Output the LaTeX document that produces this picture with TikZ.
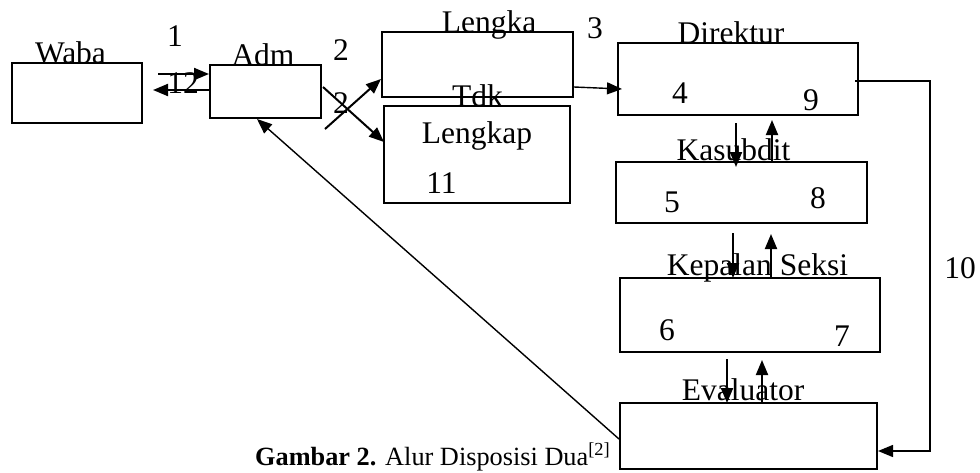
\documentclass[tikz,border=0pt]{standalone}
\usepackage{fontspec}
\setmainfont{Liberation Serif}
\usetikzlibrary{arrows.meta}
\begin{document}
\begin{tikzpicture}[x=1pt,y=-1pt,
  box/.style={draw=black,line width=2pt,rectangle,inner sep=0pt},
  lbl/.style={anchor=base,inner sep=0pt,font=\fontsize{31.5}{37}\selectfont},
  arr/.style={line width=2pt,-{Triangle[length=15pt,width=12pt]}},
  thin/.style={line width=1.3pt},
  thinarr/.style={line width=1.4pt,-{Triangle[length=15pt,width=12pt]}}]
\useasboundingbox (0,0) rectangle (980,472);
% boxes
\node[box,minimum width=130pt,minimum height=60pt] (waba) at (77,93) {};
\node[box,minimum width=111pt,minimum height=53pt] (adm) at (265.5,91.5) {};
\node[box,minimum width=191pt,minimum height=65pt] (lengka) at (477.5,64.5) {};
\node[box,minimum width=186pt,minimum height=97pt] (tdk) at (477,154.5) {};
\node[box,minimum width=240pt,minimum height=72pt] (direktur) at (738,79) {};
\node[box,minimum width=251pt,minimum height=61pt] (kasubdit) at (741.5,192.5) {};
\node[box,minimum width=260pt,minimum height=74pt] (kepala) at (750,315) {};
\node[box,minimum width=257pt,minimum height=66pt] (evaluator) at (748.5,436) {};
% labels
\node[lbl] (twaba) at (70.5,63) {Waba};
\node[lbl] (tadm) at (263,65) {Adm};
\node[lbl] (tlengka) at (489,32) {Lengka};
\node[lbl] (ttdk) at (477.5,106) {Tdk};
\node[lbl] (tlengkap) at (477,143) {Lengkap};
\node[lbl] (n11) at (441.5,193) {11};
\node[lbl] (n1) at (175,46) {1};
\node[lbl] (n12) at (183,93) {12};
\node[lbl] (n2a) at (341,60) {2};
\node[lbl] (n2b) at (341,113) {2};
\node[lbl] (n3) at (595,38) {3};
\node[lbl] (tdir) at (731,43) {Direktur};
\node[lbl] (n4) at (680,103) {4};
\node[lbl] (n9) at (811,110) {9};
\node[lbl] (tkas) at (733.5,160) {Kasubdit};
\node[lbl] (n5) at (672,212) {5};
\node[lbl] (n8) at (818,208) {8};
\node[lbl] (tkep) at (757.5,275) {Kepalan Seksi};
\node[lbl] (n10) at (960,278) {10};
\node[lbl] (n6) at (667,340) {6};
\node[lbl] (n7) at (842,346) {7};
\node[lbl] (teval) at (743,400) {Evaluator};
\node[anchor=base west,inner sep=0pt,font=\fontsize{26.3}{31}\selectfont] (cap) at (255,465)
  {\textbf{Gambar 2.} Alur Disposisi Dua\textsuperscript{[2]}};
% free ends
\coordinate (a1s) at (158,74);
\coordinate (a12e) at (153,90);
\coordinate (c1s) at (323,87);
\coordinate (c1e) at (384,142);
\coordinate (c2s) at (325,129);
\coordinate (a3e) at (622,89);
\coordinate (d1s) at (736,123);
\coordinate (d1e) at (736,167);
\coordinate (u1s) at (772,162);
\coordinate (u1e) at (772,120);
\coordinate (d2s) at (733,233);
\coordinate (d2e) at (733,278);
\coordinate (u2s) at (771,278);
\coordinate (u2e) at (771,234);
\coordinate (d3s) at (727,359);
\coordinate (d3e) at (727,403);
\coordinate (u3s) at (762,403);
\coordinate (u3e) at (762,360);
\coordinate (r10s) at (855,81);
\coordinate (r10a) at (930,81);
\coordinate (r10b) at (930,451);
\coordinate (diag) at (619,439);
% connectors
\draw[arr] (a1s) -- (adm.west |- a1s);
\draw[arr] (adm.west |- a12e) -- (a12e);
\draw[arr] (c1s) -- (c1e);
\draw[arr] (c2s) -- (lengka.west |- 0,79);
\draw[thinarr] (lengka.east |- 0,87) -- (a3e);
\draw[arr] (d1s) -- (d1e);
\draw[arr] (u1s) -- (u1e);
\draw[arr] (d2s) -- (d2e);
\draw[arr] (u2s) -- (u2e);
\draw[arr] (d3s) -- (d3e);
\draw[arr] (u3s) -- (u3e);
\draw[thinarr] (r10s) -- (r10a) -- (r10b) -- (evaluator.east |- r10b);
\draw[thinarr] (diag) -- (adm.south -| 257,0);
\end{tikzpicture}
\end{document}
